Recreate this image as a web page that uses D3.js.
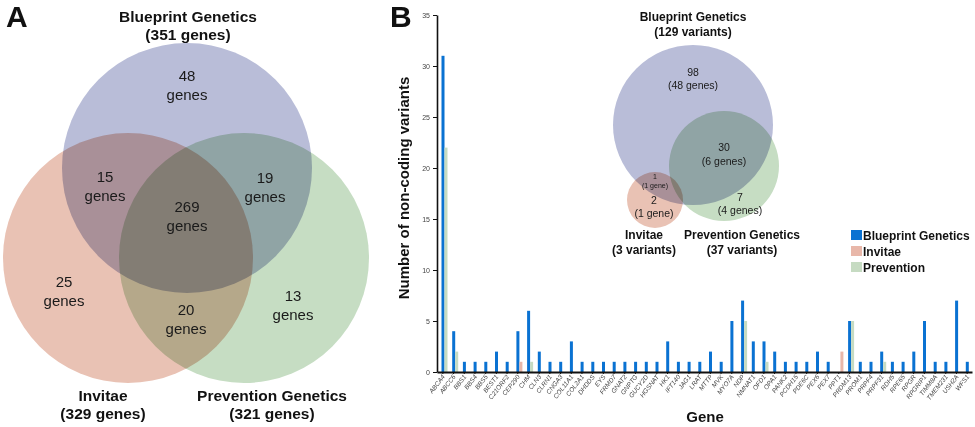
<html>
<head>
    <meta charset="utf-8">
    <style>
        body { margin: 0; background: #fff; }
        svg { font-family: "Liberation Sans", Arial, sans-serif; }
        .blend { mix-blend-mode: multiply; }
        .axis path, .axis line { stroke: #111; }
        .axis text { fill: #444; }
        .bold { font-weight: bold; fill: #111; }
    </style>
    <script src="https://d3js.org/d3.v7.min.js"></script>
</head>
<body>
<svg width="975" height="427"></svg>
<script>
// ---- data: panel A (gene overlap) ----
var vennASets = ["Blueprint Genetics", "Invitae", "Prevention Genetics"];
var vennATotals = ["(351 genes)", "(329 genes)", "(321 genes)"];
var vennARegions = ["48", "15", "269", "19", "25", "20", "13"];   // B only, B&I, all, B&P, I only, I&P, P only

// ---- data: panel B (non-coding variants per gene) ----
var genes = ["ABCA4","ABCC6","BBS1","BBS4","BBS5","BEST1","C21ORF2","CEP290","CHM","CLN3",
    "CLRN1","CNGA3","COL11A1","COL2A1","DHDDS","EYS","FRMD7","GNAT2","GNPTG","GUCY2D",
    "HGSNAT","HK1","IFT140","JAG1","LRAT","MTTP","MVK","MYO7A","NDP","NMNAT1",
    "OFD1","OPA1","PANK2","PCDH15","PDE6C","PEX6","PEX7","PPT1","PRDM13","PROM1",
    "PRPF4","PRPF31","RDH5","RPE65","RPGR","RPGRIP1","TIMM8A","TMEM231","USH2A","WFS1"];
var blueprint = [31,4,1,1,1,2,1,4,6,2, 1,1,3,1,1,1,1,1,1,1, 1,3,1,1,1,2,1,5,7,3,
    3,2,1,1,1,2,1,0,5,1, 1,2,1,1,2,5,1,1,7,1];
var invitae = [0,0,0,0,0,0,0,1,0,0, 0,0,0,0,0,0,0,0,0,0, 0,0,0,0,0,0,0,0,0,0,
    0,0,0,0,0,0,0,2,0,0, 0,0,0,0,0,0,0,0,0,0];
var prevention = [22,2,0,0,0,0,0,0,1,0, 0,0,0,0,0,0,0,0,0,0, 0,0,0,0,0,0,0,0,5,0,
    1,0,0,0,0,0,0,0,5,0, 0,1,0,0,0,0,0,0,0,0];
var yTicks = [0,5,10,15,20,25,30,35];
var seriesNames = ["Blueprint Genetics", "Invitae", "Prevention"];

// ---- data: panel B inset (variant overlap) ----
var vennBSets = ["Blueprint Genetics", "Invitae", "Prevention Genetics"];
var vennBTotals = ["(129 variants)", "(3 variants)", "(37 variants)"];
var vennBRegions = [["98","(48 genes)"], ["30","(6 genes)"], ["7","(4 genes)"], ["1","(1 gene)"], ["2","(1 gene)"]];

var colBlue = "#b9bdd8", colPink = "#e9c2b4", colGreen = "#c6ddc3";
var barColors = ["#0a72d2", "#e8b7a9", "#c6dbc2"];

var svg = d3.select("svg");

// ================= panel A =================
var gA = svg.append("g");
var circA = [
    { cx: 187, cy: 168, r: 125, fill: colBlue },
    { cx: 128, cy: 258, r: 125, fill: colPink },
    { cx: 244, cy: 258, r: 125, fill: colGreen }
];
gA.selectAll("circle").data(circA).enter().append("circle")
    .attr("class", "blend")
    .attr("cx", function(d) { return d.cx; })
    .attr("cy", function(d) { return d.cy; })
    .attr("r", function(d) { return d.r; })
    .attr("fill", function(d) { return d.fill; });

var regionPosA = [[187, 76], [105, 177], [187, 207], [265, 178], [64, 282], [186, 310], [293, 296]];
vennARegions.forEach(function(v, i) {
    var t = gA.append("text").attr("text-anchor", "middle").attr("font-size", 15).attr("fill", "#1a1a1a");
    t.append("tspan").attr("x", regionPosA[i][0]).attr("y", regionPosA[i][1] + 5).text(v);
    t.append("tspan").attr("x", regionPosA[i][0]).attr("y", regionPosA[i][1] + 24).text("genes");
});
var setPosA = [[188, 22], [103, 401], [272, 401]];
vennASets.forEach(function(s, i) {
    var t = gA.append("text").attr("class", "bold").attr("text-anchor", "middle").attr("font-size", 15.5);
    t.append("tspan").attr("x", setPosA[i][0]).attr("y", setPosA[i][1]).text(s);
    t.append("tspan").attr("x", setPosA[i][0]).attr("y", setPosA[i][1] + 18).text(vennATotals[i]);
});
svg.append("text").attr("class", "bold").attr("x", 6).attr("y", 27).attr("font-size", 30).text("A");
svg.append("text").attr("class", "bold").attr("x", 390).attr("y", 27).attr("font-size", 30).text("B");

// ================= panel B bars =================
var x = d3.scaleBand().domain(genes).range([437, 972]);
var y = d3.scaleLinear().domain([0, 35]).range([372, 15]);
var barW = 3;
var offs = d3.scaleOrdinal().domain(seriesNames).range([0, 1, 1]);

var rows = [];
genes.forEach(function(g, i) {
    [blueprint, invitae, prevention].forEach(function(arr, k) {
        if (arr[i] > 0) rows.push({ gene: g, s: seriesNames[k], v: arr[i], c: barColors[k] });
    });
});
svg.append("g").selectAll("rect").data(rows).enter().append("rect")
    .attr("x", function(d) { return x(d.gene) + 4.5 + offs(d.s) * barW; })
    .attr("y", function(d) { return y(d.v); })
    .attr("width", barW)
    .attr("height", function(d) { return y(0) - y(d.v); })
    .attr("fill", function(d) { return d.c; });

// y axis
var yAx = svg.append("g").attr("class", "axis")
    .attr("transform", "translate(437,0)")
    .call(d3.axisLeft(y).tickValues(yTicks).tickSize(4).tickSizeOuter(0));
yAx.select(".domain").attr("stroke-width", 1.6);
yAx.selectAll("text").attr("font-size", 7).attr("x", -7);

// x axis
var xAx = svg.append("g").attr("class", "axis")
    .attr("transform", "translate(0,372)")
    .call(d3.axisBottom(x).tickSize(2).tickSizeOuter(0));
xAx.select(".domain").attr("stroke-width", 1.8);
xAx.selectAll(".tick line").attr("transform", "translate(0.5,0)");
xAx.selectAll("text")
    .attr("font-size", 6.5).attr("font-style", "italic").attr("fill", "#555")
    .attr("text-anchor", "end").attr("dy", 0).attr("y", 0)
    .attr("transform", "translate(3,5) rotate(-52)");

svg.append("text").attr("class", "bold").attr("text-anchor", "middle")
    .attr("font-size", 15)
    .attr("transform", "translate(409,188) rotate(-90)")
    .text("Number of non-coding variants");
svg.append("text").attr("class", "bold").attr("text-anchor", "middle")
    .attr("x", 705).attr("y", 422).attr("font-size", 15).text("Gene");

// legend
var lg = svg.append("g").attr("transform", "translate(851,230)");
seriesNames.forEach(function(s, i) {
    lg.append("rect").attr("x", 0).attr("y", i * 16).attr("width", 11).attr("height", 10).attr("fill", barColors[i]);
    lg.append("text").attr("class", "bold").attr("x", 12).attr("y", i * 16 + 9.5)
        .attr("font-size", 12).text(s);
});

// ================= panel B inset venn =================
var gB = svg.append("g");
var circB = [
    { cx: 693, cy: 125, r: 80, fill: colBlue },
    { cx: 655, cy: 200, r: 28, fill: colPink },
    { cx: 724, cy: 166, r: 55, fill: colGreen }
];
gB.selectAll("circle").data(circB).enter().append("circle")
    .attr("class", "blend")
    .attr("cx", function(d) { return d.cx; })
    .attr("cy", function(d) { return d.cy; })
    .attr("r", function(d) { return d.r; })
    .attr("fill", function(d) { return d.fill; });

var regionPosB = [[693, 72, 10.5, 13], [724, 147, 10.5, 14], [740, 197, 10.5, 13], [655, 177, 7, 9], [654, 200, 10.5, 13]];
vennBRegions.forEach(function(r, i) {
    var p = regionPosB[i];
    var t = gB.append("text").attr("text-anchor", "middle").attr("font-size", p[2]).attr("fill", "#1a1a1a");
    t.append("tspan").attr("x", p[0]).attr("y", p[1] + p[2] * 0.35).text(r[0]);
    t.append("tspan").attr("x", p[0]).attr("y", p[1] + p[2] * 0.35 + p[3]).text(r[1]);
});
var setPosB = [[693, 21], [644, 239], [742, 239]];
vennBSets.forEach(function(s, i) {
    var t = gB.append("text").attr("class", "bold").attr("text-anchor", "middle").attr("font-size", 12);
    t.append("tspan").attr("x", setPosB[i][0]).attr("y", setPosB[i][1]).text(s);
    t.append("tspan").attr("x", setPosB[i][0]).attr("y", setPosB[i][1] + 15).text(vennBTotals[i]);
});
</script>
</body>
</html>
